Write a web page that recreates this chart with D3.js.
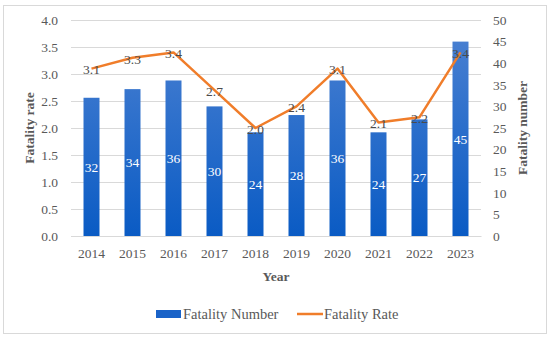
<!DOCTYPE html>
<html><head><meta charset="utf-8">
<script src="https://cdn.jsdelivr.net/npm/d3@7"></script>
<style>html,body{margin:0;padding:0;background:#fff;}svg{display:block;}</style>
</head><body>
<script>
const years = ["2014","2015","2016","2017","2018","2019","2020","2021","2022","2023"];
const fatalityNumber = [32,34,36,30,24,28,36,24,27,45];
const fatalityRate = [3.1,3.3,3.4,2.7,2.0,2.4,3.1,2.1,2.2,3.4];
const rateTicks = [0,0.5,1.0,1.5,2.0,2.5,3.0,3.5,4.0];
const numberTicks = [0,5,10,15,20,25,30,35,40,45,50];

(function(){
const W = 550, H = 339;
const font = "'Liberation Serif', 'DejaVu Serif', serif";
const textCol = "#595959";
const svg = d3.select("body").append("svg").attr("width", W).attr("height", H)
  .style("font-family", font);

svg.append("rect").attr("x", 3.5).attr("y", 5.5).attr("width", 543).attr("height", 328)
  .attr("fill", "#fff").attr("stroke", "#d9d9d9").attr("stroke-width", 1);

const pL = 71, pR = 481, pT = 20, pB = 236;
const x = d3.scaleBand().domain(years).range([pL, pR]).paddingInner(0.61).paddingOuter(0.305);
const yL = d3.scaleLinear().domain([0, 4]).range([pB, pT]);
const yR = d3.scaleLinear().domain([0, 50]).range([pB, pT]);

const defs = svg.append("defs");
const grad = defs.append("linearGradient").attr("id", "barGrad")
  .attr("gradientUnits", "userSpaceOnUse")
  .attr("x1", 0).attr("y1", pT).attr("x2", 0).attr("y2", pB);
grad.append("stop").attr("offset", "0%").attr("stop-color", "#4d82d2");
grad.append("stop").attr("offset", "100%").attr("stop-color", "#0a5bc4");

// gridlines
svg.append("g").selectAll("line").data(rateTicks).join("line")
  .attr("x1", pL).attr("x2", pR)
  .attr("y1", d => Math.round(yL(d)) + 0.5).attr("y2", d => Math.round(yL(d)) + 0.5)
  .attr("stroke", "#d9d9d9").attr("stroke-width", 1);

// left axis
const axL = svg.append("g").attr("transform", `translate(${pL},0)`)
  .call(d3.axisLeft(yL).tickValues(rateTicks).tickFormat(d3.format(".1f")).tickSize(0).tickPadding(13));
axL.select(".domain").remove();
axL.selectAll("text").attr("font-size", 13.5).attr("fill", textCol).style("font-family", font);

// right axis
const axR = svg.append("g").attr("transform", `translate(${pR},0)`)
  .call(d3.axisRight(yR).tickValues(numberTicks).tickSize(0).tickPadding(12));
axR.select(".domain").remove();
axR.selectAll("text").attr("font-size", 13.5).attr("fill", textCol).style("font-family", font);

// bottom axis
const axB = svg.append("g").attr("transform", `translate(0,${pB})`)
  .call(d3.axisBottom(x).tickSize(0).tickPadding(12));
axB.select(".domain").attr("stroke", "#d9d9d9");
axB.selectAll("text").attr("font-size", 13.5).attr("fill", textCol).style("font-family", font);

// bars
const data = years.map((y, i) => ({year: y, n: fatalityNumber[i], r: fatalityRate[i]}));
svg.append("g").selectAll("rect").data(data).join("rect")
  .attr("x", d => x(d.year)).attr("width", x.bandwidth())
  .attr("y", d => yR(d.n)).attr("height", d => pB - yR(d.n))
  .attr("fill", "url(#barGrad)");

svg.append("g").selectAll("text").data(data).join("text")
  .attr("x", d => x(d.year) + x.bandwidth() / 2)
  .attr("y", d => (yR(d.n) + pB) / 2)
  .attr("dy", "0.35em").attr("text-anchor", "middle")
  .attr("font-size", 13.5).attr("fill", "#fff").text(d => d.n);

// line
const line = d3.line().x(d => x(d.year) + x.bandwidth() / 2).y(d => yL(d.r));
svg.append("path").datum(data).attr("d", line)
  .attr("fill", "none").attr("stroke", "#f07d2a").attr("stroke-width", 2.5)
  .attr("stroke-linejoin", "round");

svg.append("g").selectAll("text").data(data).join("text")
  .attr("x", d => x(d.year) + x.bandwidth() / 2)
  .attr("y", d => yL(d.r) + 1)
  .attr("dy", "0.35em").attr("text-anchor", "middle")
  .attr("font-size", 13.5).attr("fill", "#4a4a4a").text(d => d.r.toFixed(1));

// axis titles
svg.append("text").attr("x", (pL + pR) / 2).attr("y", 281)
  .attr("text-anchor", "middle").attr("font-size", 13.5).attr("font-weight", "bold")
  .attr("fill", textCol).text("Year");
svg.append("text").attr("transform", `translate(34,${(pT + pB) / 2}) rotate(-90)`)
  .attr("text-anchor", "middle").attr("font-size", 13.5).attr("font-weight", "bold")
  .attr("fill", textCol).text("Fatality rate");
svg.append("text").attr("transform", `translate(527,${(pT + pB) / 2}) rotate(-90)`)
  .attr("text-anchor", "middle").attr("font-size", 13.5).attr("font-weight", "bold")
  .attr("fill", textCol).text("Fatality number");

// legend
const lg = svg.append("g");
lg.append("rect").attr("x", 156).attr("y", 310).attr("width", 25).attr("height", 8).attr("fill", "#1a63c8");
lg.append("text").attr("x", 183).attr("y", 314).attr("dy", "0.35em").attr("font-size", 14.5)
  .attr("fill", textCol).text("Fatality Number");
lg.append("line").attr("x1", 297).attr("x2", 323).attr("y1", 314).attr("y2", 314)
  .attr("stroke", "#f07d2a").attr("stroke-width", 2.5);
lg.append("text").attr("x", 324).attr("y", 314).attr("dy", "0.35em").attr("font-size", 14.5)
  .attr("fill", textCol).text("Fatality Rate");
})();
</script>
</body></html>
